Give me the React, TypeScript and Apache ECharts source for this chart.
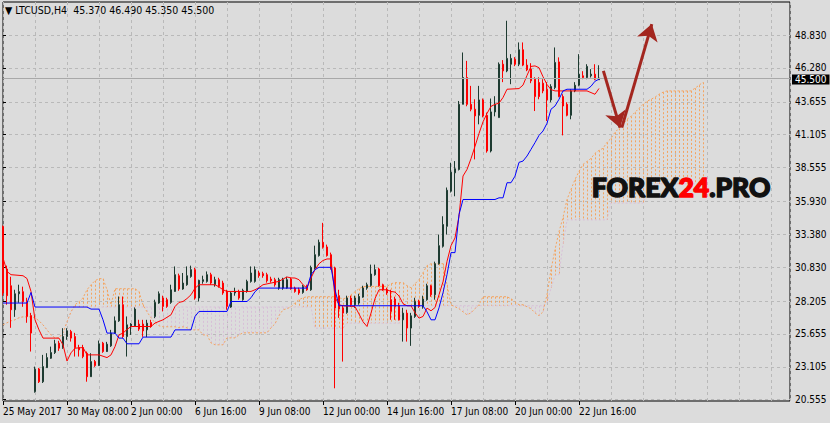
import React, { useEffect, useRef } from 'react';
import * as echarts from 'echarts';

// ---- time axis labels (one every 16 four-hour bars) ----
const tickLabels = ['25 May 2017', '30 May 08:00', '2 Jun 00:00', '6 Jun 16:00', '9 Jun 08:00', '12 Jun 00:00', '14 Jun 16:00', '17 Jun 08:00', '20 Jun 00:00', '22 Jun 16:00'];
const labelStep = 16;
// ---- price axis labels ----
const priceTicks = [20.555, 23.105, 25.655, 28.205, 30.83, 33.38, 35.93, 38.555, 41.105, 43.655, 46.28, 48.83];
const lastPrice = 45.5;
const header = '\u25BC LTCUSD,H4  45.370 46.490 45.350 45.500';

// ---- candles: [open, close, low, high] ----
const candles = [
  [33.99, 28.83, 28.62, 34.06], [30.69, 28.62, 27.92, 30.95], [29.39, 27.53, 26.13, 30.09], [27.53, 28.77, 26.98, 29.08],
  [28.77, 28.93, 28.07, 29.47], [28.93, 28.17, 27.76, 29.32], [28.17, 27.01, 26.52, 28.46], [27.08, 25.72, 24.29, 27.29],
  [21.18, 22.92, 21.10, 23.12], [22.94, 21.95, 21.85, 23.02], [21.95, 23.12, 21.85, 24.03], [23.04, 23.82, 23.02, 24.16],
  [23.77, 24.21, 23.72, 24.67], [24.21, 24.89, 24.10, 25.20], [24.94, 24.55, 24.34, 25.12], [24.60, 25.45, 24.50, 26.10],
  [25.45, 25.90, 25.20, 26.10], [25.84, 25.33, 25.06, 25.97], [25.45, 24.60, 23.90, 25.74], [24.60, 24.42, 23.90, 24.81],
  [24.60, 23.90, 23.77, 24.81], [24.16, 22.34, 21.95, 24.29], [22.34, 23.51, 22.32, 24.16], [23.51, 23.20, 23.10, 23.64],
  [23.20, 24.89, 23.17, 25.14], [24.94, 24.29, 24.19, 25.04], [24.29, 24.86, 24.26, 25.04], [24.73, 25.72, 24.65, 25.97],
  [25.72, 26.67, 25.66, 27.01], [26.67, 27.92, 26.59, 28.56], [27.92, 25.45, 25.33, 28.56], [25.45, 26.36, 23.90, 27.01],
  [26.28, 26.42, 25.58, 26.49], [26.28, 27.58, 26.21, 27.71], [26.42, 26.03, 25.89, 26.75], [26.42, 25.89, 25.43, 26.75],
  [25.97, 26.49, 25.41, 26.75], [26.54, 26.23, 26.13, 26.75], [27.01, 28.10, 26.88, 28.31], [28.05, 28.77, 27.99, 28.95],
  [28.44, 27.79, 27.40, 28.62], [28.31, 27.79, 27.68, 28.46], [28.10, 29.08, 27.99, 29.47], [28.95, 30.25, 28.93, 30.89],
  [30.17, 29.14, 29.00, 30.33], [29.14, 29.60, 29.08, 30.38], [29.47, 30.17, 29.39, 30.89], [30.11, 30.64, 30.01, 30.95],
  [30.64, 28.44, 28.31, 30.79], [28.44, 29.81, 28.17, 29.86], [29.73, 29.86, 29.55, 30.17], [29.73, 30.25, 29.63, 30.50],
  [30.25, 29.60, 29.47, 30.40], [29.47, 29.86, 29.32, 30.09], [29.86, 29.34, 29.24, 30.01], [29.60, 28.83, 28.69, 29.78],
  [28.95, 27.79, 27.53, 29.08], [27.74, 28.83, 27.68, 28.95], [28.83, 28.95, 28.62, 29.24], [28.95, 28.44, 28.31, 29.08],
  [28.31, 29.03, 28.23, 29.16], [28.95, 29.73, 28.85, 29.86], [29.73, 30.38, 29.63, 30.89], [29.73, 30.64, 29.63, 30.89],
  [30.38, 30.17, 30.01, 30.56], [30.33, 30.17, 30.01, 30.48], [30.25, 29.78, 29.63, 30.40], [29.91, 29.78, 29.63, 30.09],
  [29.86, 29.47, 29.32, 30.01], [29.21, 29.86, 29.08, 30.01], [29.21, 29.86, 29.08, 30.01], [29.21, 29.86, 29.16, 30.09],
  [29.91, 29.14, 29.08, 30.01], [29.21, 28.95, 28.85, 29.32], [29.08, 28.83, 28.69, 29.24], [28.87, 29.34, 28.77, 29.47],
  [29.39, 29.08, 29.00, 29.47], [29.08, 30.81, 29.00, 30.95], [30.77, 31.80, 30.64, 32.50], [31.73, 32.76, 31.65, 32.97],
  [32.76, 32.37, 32.27, 34.27], [32.40, 31.73, 31.65, 32.58], [31.80, 30.77, 30.64, 31.96], [30.77, 27.66, 21.44, 30.87],
  [28.62, 27.58, 26.90, 29.08], [27.66, 27.27, 23.51, 27.84], [27.32, 28.44, 27.22, 28.62], [28.44, 27.92, 27.76, 28.62],
  [27.92, 28.44, 27.68, 28.62], [28.05, 28.56, 27.92, 28.77], [28.51, 29.21, 28.46, 29.39], [29.21, 29.47, 29.08, 29.63],
  [29.42, 30.30, 29.32, 31.03], [30.25, 30.64, 30.17, 31.03], [30.69, 29.39, 29.32, 30.79], [29.47, 29.08, 29.00, 29.55],
  [29.08, 28.83, 28.69, 29.24], [28.31, 27.40, 26.75, 29.08], [28.36, 27.79, 26.75, 28.54], [27.84, 26.75, 26.70, 28.07],
  [26.75, 27.27, 25.06, 27.68], [27.27, 26.11, 25.06, 27.53], [26.11, 27.06, 24.73, 27.29], [27.01, 28.17, 26.90, 28.46],
  [28.17, 27.79, 27.68, 28.31], [27.74, 28.36, 27.61, 28.62], [28.31, 29.39, 28.23, 29.55], [29.39, 28.69, 28.54, 29.47],
  [28.69, 31.10, 28.31, 31.26], [31.10, 32.50, 31.03, 33.36], [32.45, 34.14, 32.35, 34.78], [34.00, 36.80, 33.36, 37.01],
  [36.72, 38.20, 36.62, 38.93], [38.15, 38.46, 36.33, 39.06], [38.41, 43.46, 38.33, 43.72], [43.46, 45.54, 43.46, 47.48],
  [45.54, 43.46, 43.31, 46.83], [43.46, 43.08, 42.92, 44.89], [43.08, 42.56, 39.19, 43.85], [42.61, 43.80, 41.91, 44.89],
  [43.80, 42.56, 42.45, 43.91], [42.61, 39.84, 39.71, 42.82], [39.84, 42.87, 39.73, 43.91], [42.87, 43.46, 42.53, 44.09],
  [42.43, 46.57, 42.43, 46.71], [46.57, 46.05, 45.18, 46.89], [46.05, 47.02, 45.95, 49.94], [46.57, 47.02, 45.02, 47.35],
  [46.96, 46.57, 46.42, 47.12], [46.57, 47.69, 46.42, 48.26], [47.69, 46.50, 46.42, 48.26], [46.50, 46.13, 46.03, 46.96],
  [46.19, 45.28, 45.10, 46.65], [45.41, 44.06, 42.94, 45.56], [45.15, 44.06, 43.85, 45.56], [45.10, 44.50, 44.32, 45.41],
  [44.63, 43.80, 42.17, 45.18], [43.80, 44.84, 43.62, 45.02], [44.76, 46.71, 44.63, 47.87], [46.75, 44.06, 44.01, 47.10],
  [44.06, 43.33, 41.05, 44.24], [43.46, 42.61, 42.53, 43.62], [42.61, 44.50, 42.30, 44.63], [44.50, 44.94, 44.40, 45.18],
  [44.94, 45.80, 44.86, 47.35], [45.67, 45.54, 45.41, 46.03], [45.54, 46.40, 45.41, 46.57], [45.67, 45.80, 45.54, 46.19],
  [45.80, 45.41, 45.33, 46.57], [45.37, 45.50, 45.35, 46.49],
];

// ---- Ichimoku: Tenkan-sen (red) and Kijun-sen (blue), [bar, price] vertices ----
const tenkan = [
  [0, 31.55], [1, 30.50], [2, 30.25], [5, 30.17], [6, 29.95], [7, 28.95], [8, 26.75], [9, 25.97], [10, 25.33], [14, 25.33],
  [15, 24.81], [16, 23.55], [17, 24.19], [18, 24.55], [20, 24.60], [21, 24.03], [24, 24.03], [26, 23.82], [27, 24.03], [28, 24.67],
  [29, 25.58], [30, 25.72], [31, 26.00], [32, 26.23], [37, 26.23], [38, 26.50], [40, 26.75], [42, 27.14], [43, 27.78], [44, 28.10],
  [45, 28.17], [46, 28.40], [47, 28.69], [48, 29.20], [49, 29.47], [53, 29.47], [54, 29.30], [55, 29.08], [56, 28.95], [62, 28.95],
  [63, 29.08], [64, 29.25], [65, 29.47], [69, 29.73], [70, 29.91], [71, 30.07], [72, 30.00], [73, 29.99], [74, 29.86], [75, 29.47],
  [76, 29.21], [77, 29.99], [78, 30.64], [79, 31.10], [80, 31.35], [81, 31.47], [82, 31.47], [83, 28.50], [84, 27.92], [85, 27.84],
  [88, 27.78], [89, 27.20], [90, 26.60], [91, 26.23], [92, 27.27], [93, 28.40], [94, 29.08], [96, 29.08], [97, 28.95], [98, 28.90],
  [99, 28.60], [100, 28.00], [101, 27.84], [102, 27.84], [103, 27.30], [104, 26.88], [105, 27.01], [106, 27.66], [107, 27.45], [108, 27.70],
  [109, 28.69], [110, 29.70], [111, 31.28], [112, 32.50], [113, 33.10], [114, 34.78], [115, 37.90], [116, 38.41], [117, 39.25], [118, 40.20],
  [119, 41.20], [120, 42.10], [121, 42.75], [122, 43.30], [123, 43.46], [124, 43.55], [125, 43.99], [126, 44.63], [129, 44.68], [130, 44.95],
  [131, 45.70], [132, 46.40], [133, 46.44], [134, 46.30], [135, 45.60], [136, 45.00], [137, 44.60], [138, 44.50], [146, 44.50], [147, 44.37],
  [148, 44.24], [149, 44.69],
];
const kijun = [
  [0, 28.05], [6, 28.05], [7, 28.87], [8, 27.74], [21, 27.74], [22, 27.58], [24, 27.58], [25, 26.75], [26, 25.72], [28, 25.72],
  [29, 25.33], [30, 25.33], [31, 24.89], [34, 24.89], [35, 25.41], [42, 25.41], [43, 25.97], [47, 25.97], [48, 27.01], [49, 27.40],
  [56, 27.40], [57, 28.17], [61, 28.17], [62, 28.46], [63, 28.93], [64, 29.21], [76, 29.21], [77, 30.25], [78, 30.64], [79, 30.82],
  [82, 30.82], [83, 29.08], [84, 27.84], [105, 27.84], [106, 27.37], [107, 26.75], [108, 26.75], [109, 27.68], [110, 28.85], [111, 30.25],
  [112, 31.96], [113, 31.96], [114, 34.91], [115, 36.08], [123, 36.08], [124, 36.21], [125, 36.21], [126, 37.38], [127, 37.38], [128, 37.89],
  [129, 38.96], [130, 39.06], [131, 39.45], [132, 39.97], [133, 40.49], [134, 41.05], [135, 41.39], [136, 41.99], [137, 43.08], [138, 43.33],
  [139, 43.85], [140, 44.50], [141, 44.63], [146, 44.63], [147, 44.86], [148, 45.25], [149, 45.41],
];
// ---- Senkou Span A / B, one value per bar (cloud runs 26 bars ahead) ----
const spanA = [
  26.36, 26.52, 26.67, 26.75, 26.91, 26.98, 26.98, 26.98, 26.91, 26.67, 26.36, 25.97, 25.58, 25.35, 25.35, 25.74, 26.59, 27.37, 27.92, 28.15,
  28.46, 29.08, 29.47, 29.78, 29.94, 29.94, 29.08, 27.92, 29.16, 29.16, 29.16, 29.16, 29.16, 29.16, 28.93, 27.92, 27.37, 26.91, 26.52, 26.28,
  26.21, 26.21, 26.21, 26.21, 26.13, 26.21, 26.13, 25.97, 25.97, 25.97, 25.58, 25.58, 24.96, 24.81, 24.81, 24.81, 25.35, 25.35, 25.35, 25.58,
  25.74, 25.74, 25.74, 25.74, 25.74, 25.74, 25.74, 26.13, 26.44, 27.07, 27.53, 27.61, 27.76, 28.07, 28.31, 28.46, 28.54, 28.54, 28.54, 28.54,
  28.54, 28.54, 28.54, 28.54, 28.46, 28.38, 28.46, 28.69, 28.93, 29.16, 29.32, 29.34, 29.34, 29.34, 29.34, 29.34, 29.34, 29.55, 29.63, 29.63,
  29.63, 29.39, 29.24, 29.55, 29.86, 30.41, 30.95, 31.10, 31.10, 31.10, 31.10, 29.47, 27.92, 27.76, 27.61, 27.37, 27.14, 27.29, 27.61, 27.92,
  28.54, 28.54, 28.54, 28.54, 28.54, 28.54, 28.54, 28.38, 28.15, 27.92, 27.92, 27.76, 27.61, 27.29, 27.07, 27.37, 28.69, 30.64, 32.19, 33.59,
  34.68, 36.08, 36.86, 37.63, 38.26, 38.80, 39.03, 39.27, 39.66, 39.89, 40.05, 40.51, 40.82, 41.29, 41.60, 41.91, 42.30, 42.53, 42.84, 43.15,
  43.46, 43.70, 43.85, 44.01, 44.24, 44.40, 44.50, 44.50, 44.50, 44.50, 44.50, 44.50, 44.50, 44.71, 44.94, 45.17,
];
const spanB = [
  26.36, 26.52, 26.67, 26.75, 26.91, 26.98, 26.98, 26.98, 26.91, 26.67, 26.36, 25.97, 25.58, 25.35, 25.35, 25.74, 26.59, 27.37, 27.74, 27.74,
  27.74, 27.74, 27.74, 27.74, 27.74, 27.74, 27.74, 27.74, 27.74, 27.74, 27.74, 27.74, 27.74, 27.74, 27.74, 27.74, 27.74, 27.74, 27.74, 27.74,
  27.74, 27.74, 27.74, 27.74, 27.74, 27.74, 27.74, 27.74, 27.74, 27.74, 27.74, 27.74, 27.74, 27.74, 27.74, 27.74, 27.74, 27.74, 27.74, 27.74,
  27.74, 27.74, 27.74, 27.74, 27.74, 27.74, 27.74, 27.74, 27.74, 27.74, 27.74, 27.74, 27.74, 27.74, 27.74, 27.74, 27.74, 27.74, 26.10, 26.10,
  26.10, 26.10, 26.10, 26.10, 26.10, 26.10, 26.49, 26.49, 26.49, 26.49, 26.49, 26.49, 26.49, 26.49, 26.49, 26.49, 26.49, 26.49, 26.49, 26.49,
  27.84, 27.84, 27.84, 27.84, 27.84, 27.84, 27.84, 27.84, 27.84, 27.84, 27.84, 27.84, 27.84, 27.84, 27.84, 27.84, 27.84, 27.84, 27.84, 27.84,
  27.84, 27.84, 27.84, 27.84, 27.84, 27.84, 27.84, 27.84, 27.84, 27.84, 27.84, 27.84, 27.84, 27.84, 27.84, 27.84, 28.10, 29.20, 30.20, 30.25,
  32.60, 34.50, 34.50, 34.50, 34.50, 34.50, 34.50, 34.50, 34.50, 34.50, 34.50, 34.50, 35.80, 35.80, 35.80, 35.80, 35.80, 35.80, 35.80, 35.80,
  35.80, 36.70, 36.70, 37.30, 37.30, 37.30, 37.30, 37.30, 37.30, 37.30, 37.30, 37.30, 37.30, 37.30, 37.30, 37.30,
];
// ---- annotation arrows, [bar, price] ----
const arrowDown = [[150.1, 46.05], [154.25, 41.65]];
const arrowUp = [[154.7, 41.65], [162.2, 49.68]];

const FONT = '"Liberation Sans Narrow", "Arial Narrow", "DejaVu Sans Condensed", "Liberation Sans", sans-serif';
const MARK_FONT = 'Lato, "Noto Sans", "Open Sans", sans-serif';
const BG = '#DCDCDC';
const GRIDC = '#B9B9B9';
const BULL = '#336B58';
const BULL_EDGE = '#1E3B31';
const BEAR = '#FF0000';
const ORANGE = '#F4A460';
const THISTLE = '#D8BFD8';
const ARROW = '#A3261F';

export default function App() {
  const ref = useRef<HTMLDivElement>(null);
  useEffect(() => {
    const chart = echarts.init(ref.current as HTMLDivElement, null, { renderer: 'svg' });
    const xMax = 196.75;
    const option: any = {
      animation: false,
      backgroundColor: BG,
      textStyle: { fontFamily: FONT },
      grid: { left: 3, right: 40, top: 2, bottom: 22, show: true, borderColor: '#000', borderWidth: 1, backgroundColor: 'transparent', containLabel: false, outerBoundsMode: 'none' },
      xAxis: [
        {
          type: 'value', min: 0, max: xMax, interval: 8,
          axisLine: { show: false }, axisTick: { show: false }, axisLabel: { show: false },
          splitLine: { show: true, lineStyle: { color: GRIDC, type: [3, 3], width: 1 } },
        },
        {
          type: 'value', min: 0, max: xMax, position: 'bottom',
          axisLine: { show: false }, splitLine: { show: false },
          axisTick: { show: true, length: 4, lineStyle: { color: '#000' }, customValues: tickLabels.map((_, i) => i * labelStep) },
          axisLabel: {
            show: true, customValues: tickLabels.map((_, i) => i * labelStep),
            formatter: (v: number) => tickLabels[Math.round(v / labelStep)] ?? '',
            align: 'left', margin: 5, color: '#000', fontSize: 10, fontFamily: FONT,
          },
        },
      ],
      yAxis: [
        {
          type: 'value', position: 'right', min: 20.454, max: 51.395, scale: true,
          axisLine: { show: false },
          axisTick: { show: true, length: 3, lineStyle: { color: '#000' }, customValues: priceTicks },
          axisLabel: { customValues: priceTicks, formatter: (v: number) => v.toFixed(3), margin: 5, color: '#000', fontSize: 10, lineHeight: 9, fontFamily: FONT },
          splitLine: { show: true, lineStyle: { color: GRIDC, type: [3, 3], width: 1 } },
        },
      ],
      graphic: [
        { type: 'text', left: 5, top: 4, style: { text: header, font: `10.5px ${FONT}`, fill: '#000' } },
        {
          type: 'text', left: 591, top: 173, z: 100,
          style: {
            text: '{a|FOREX}{b|24}{a|.PRO}',
            rich: {
              a: { fontFamily: MARK_FONT, fontWeight: 900, fontSize: 26.5, fill: '#111', stroke: '#111', lineWidth: 1.4 },
              b: { fontFamily: MARK_FONT, fontWeight: 900, fontSize: 26.5, fill: '#FF0000', stroke: '#FF0000', lineWidth: 1.4 },
            },
          },
        },
      ],
      series: [
        {
          type: 'custom', name: 'cloud', silent: true, z: 1,
          data: spanA.map((a, i) => [i, a, spanB[i]]),
          encode: { x: 0, y: [1, 2] },
          renderItem: (params: any, api: any) => {
            const i = api.value(0), a = api.value(1), b = api.value(2);
            if (a === b) return null;
            const p1 = api.coord([i, a]);
            const p2 = api.coord([i, b]);
            const x = Math.round(p1[0]) + 0.5;
            return {
              type: 'line', silent: true,
              shape: { x1: x, y1: p1[1], x2: x, y2: p2[1] },
              style: { stroke: a > b ? ORANGE : THISTLE, lineWidth: 1, lineDash: [2, 2] },
            };
          },
        },
        {
          type: 'line', name: 'Senkou B', z: 2, silent: true, showSymbol: false,
          data: spanB.map((v, i) => [i, v]),
          lineStyle: { color: THISTLE, width: 1, type: [2, 2] },
        },
        {
          type: 'line', name: 'Senkou A', z: 2, silent: true, showSymbol: false,
          data: spanA.map((v, i) => [i, v]),
          lineStyle: { color: ORANGE, width: 1, type: [2, 2] },
        },
        {
          type: 'candlestick', name: 'LTCUSD', z: 3,
          data: candles.map((c, i) => [i, c[0], c[1], c[2], c[3]]),
          encode: { x: 0, y: [1, 2, 3, 4] },
          barWidth: 2,
          itemStyle: { color: BULL, color0: BEAR, borderColor: BULL_EDGE, borderColor0: BEAR, borderWidth: 1 },
          markLine: {
            silent: true, symbol: 'none', animation: false,
            lineStyle: { color: '#A8A8A8', type: 'solid', width: 1 },
            label: {
              show: true, position: 'end', distance: 2, offset: [0, 1.5], formatter: lastPrice.toFixed(3),
              backgroundColor: '#000', color: '#fff', padding: [0, 3, 0, 3], fontSize: 10, lineHeight: 10, fontFamily: FONT,
            },
            data: [{ yAxis: lastPrice }],
          },
        },
        {
          type: 'line', name: 'Tenkan-sen', z: 4, silent: true, showSymbol: false,
          data: tenkan, lineStyle: { color: '#FF0000', width: 1 },
        },
        {
          type: 'line', name: 'Kijun-sen', z: 4, silent: true, showSymbol: false,
          data: kijun, lineStyle: { color: '#0000FF', width: 1 },
        },
        {
          type: 'lines', coordinateSystem: 'cartesian2d', z: 5, silent: true,
          symbol: ['none', 'arrow'], symbolSize: [13, 16],
          lineStyle: { color: ARROW, width: 3, opacity: 1, curveness: 0 },
          data: [{ coords: arrowDown }, { coords: arrowUp }],
        },
      ],
    };
    chart.setOption(option);
    return () => chart.dispose();
  }, []);
  return <div ref={ref} style={{ position: 'fixed', left: 0, top: 0, width: 830, height: 423 }} />;
}
